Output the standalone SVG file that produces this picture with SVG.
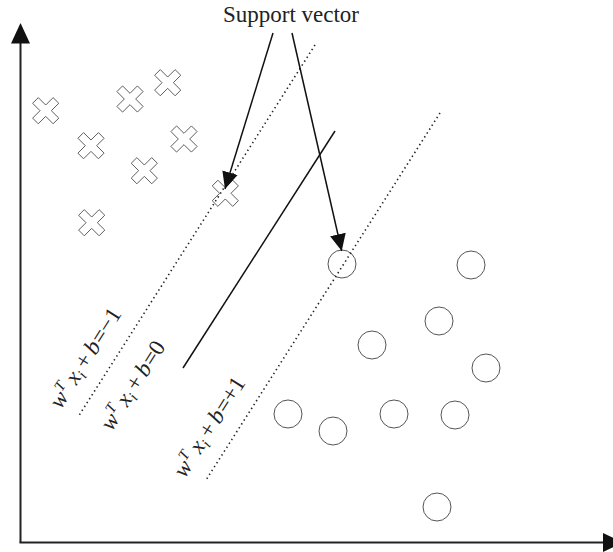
<svg xmlns="http://www.w3.org/2000/svg" width="613" height="552" viewBox="0 0 613 552">
<style>
.cr{fill:#fff;stroke:#555;stroke-width:0.9}
.ci{fill:none;stroke:#555;stroke-width:1}
.dot{fill:none;stroke:#222;stroke-width:1.6;stroke-dasharray:1.4 3.2}
.sol{fill:none;stroke:#111;stroke-width:1.5}
.ax{fill:none;stroke:#222;stroke-width:2}
.lbl{font-family:"Liberation Serif",serif;font-size:23px;fill:#222}
.it{font-style:italic}
</style>
<defs>
<polygon id="xs" points="-4,-14.5 4,-14.5 4,-4 14.5,-4 14.5,4 4,4 4,14.5 -4,14.5 -4,4 -14.5,4 -14.5,-4 -4,-4" transform="rotate(45)"/>
<marker id="ah" markerUnits="userSpaceOnUse" markerWidth="18" markerHeight="18" viewBox="0 0 18 18" refX="17" refY="9" orient="auto">
<path d="M0,1 L17,9 L0,17 z" fill="#111"/>
</marker>
</defs>
<rect width="613" height="552" fill="#fff"/>
<g id="axes">
<line class="ax" x1="20.5" y1="40" x2="20.5" y2="542.5"/>
<polygon points="20.5,23 11,43.5 30,43.5" fill="#111"/>
<line class="ax" x1="19.5" y1="542.5" x2="605" y2="542.5"/>
<polygon points="603,533 623,542.5 603,552" fill="#111"/>
</g>
<g id="class-neg">
<g id="x1"><use href="#xs" class="cr" x="45.7" y="110.7"/></g>
<g id="x2"><use href="#xs" class="cr" x="130" y="99"/></g>
<g id="x3"><use href="#xs" class="cr" x="167.7" y="82.7"/></g>
<g id="x4"><use href="#xs" class="cr" x="91" y="145.7"/></g>
<g id="x5"><use href="#xs" class="cr" x="184" y="139"/></g>
<g id="x6"><use href="#xs" class="cr" x="144.3" y="170.7"/></g>
<g id="x7"><use href="#xs" class="cr" x="225.3" y="193.3"/></g>
<g id="x8"><use href="#xs" class="cr" x="91.7" y="222.7"/></g>
</g>
<g id="class-pos">
<g id="c1"><circle class="ci" cx="342" cy="264" r="14"/></g>
<g id="c2"><circle class="ci" cx="471" cy="265" r="14"/></g>
<g id="c3"><circle class="ci" cx="439" cy="321" r="14"/></g>
<g id="c4"><circle class="ci" cx="372" cy="345" r="14"/></g>
<g id="c5"><circle class="ci" cx="486" cy="368" r="14"/></g>
<g id="c6"><circle class="ci" cx="288" cy="414" r="14"/></g>
<g id="c7"><circle class="ci" cx="333" cy="431" r="14"/></g>
<g id="c8"><circle class="ci" cx="394" cy="414" r="14"/></g>
<g id="c9"><circle class="ci" cx="455" cy="415" r="14"/></g>
<g id="c10"><circle class="ci" cx="437" cy="507" r="14"/></g>
</g>
<g id="connectors">
<line class="dot" x1="315" y1="45" x2="78" y2="417"/>
<line class="sol" x1="335" y1="131" x2="183" y2="368"/>
<line class="dot" x1="440" y1="113" x2="206" y2="480"/>
<line class="sol" x1="273" y1="33" x2="225" y2="189" marker-end="url(#ah)"/>
<line class="sol" x1="292" y1="33" x2="341.7" y2="251" marker-end="url(#ah)"/>
</g>
<g id="labels">
<text class="lbl" x="291" y="22" text-anchor="middle" font-size="21.5">Support vector</text>
<text class="lbl" transform="translate(61,410) rotate(-57.5)"><tspan class="it">w</tspan><tspan class="it" font-size="15" dy="-9">T</tspan><tspan class="it" dx="5" dy="9">x</tspan><tspan class="it" font-size="15" dy="4">i</tspan><tspan dx="4" dy="-4">+</tspan><tspan class="it" dx="4">b</tspan><tspan dx="1">=−1</tspan></text>
<text class="lbl" transform="translate(112,432) rotate(-57.5)"><tspan class="it">w</tspan><tspan class="it" font-size="15" dy="-9">T</tspan><tspan class="it" dx="5" dy="9">x</tspan><tspan class="it" font-size="15" dy="4">i</tspan><tspan dx="4" dy="-4">+</tspan><tspan class="it" dx="4">b</tspan><tspan dx="1">=0</tspan></text>
<text class="lbl" transform="translate(185,479) rotate(-57.5)"><tspan class="it">w</tspan><tspan class="it" font-size="15" dy="-9">T</tspan><tspan class="it" dx="5" dy="9">x</tspan><tspan class="it" font-size="15" dy="4">i</tspan><tspan dx="4" dy="-4">+</tspan><tspan class="it" dx="4">b</tspan><tspan dx="1">=+1</tspan></text>
</g>
</svg>
